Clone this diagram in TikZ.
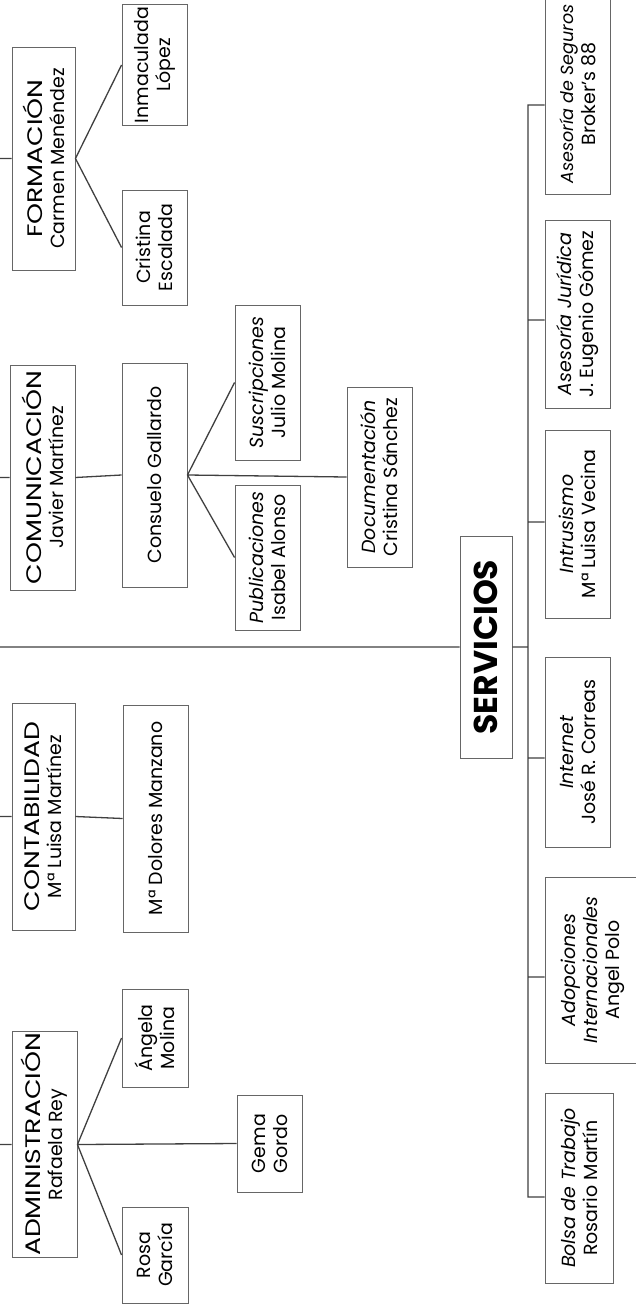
\documentclass[tikz,border=0pt]{standalone}
\usepackage{fontspec}
\setmainfont{Poppins}
\newfontfamily\anchafont[FakeStretch=1.27]{Poppins}
\newcommand{\cj}{\node[caja]}
\newcommand{\tit}[1]{{\anchafont\fontsize{21}{23}\selectfont #1}}
\tikzset{
  caja/.style={draw=black!60, line width=0.9pt, rotate=90, align=center,
    inner sep=0pt, inner xsep=2pt, font=\fontsize{19}{22}\selectfont},
  linea/.style={draw=black!75, line width=1.3pt},
}

\begin{document}
\begin{tikzpicture}[x=1pt, y=-1pt]
  \useasboundingbox (0,0) rectangle (636,1307);
  \fill[white] (0,0) rectangle (636,1307);
  \clip (0,0) rectangle (636,1307);
  \coordinate (tronco) at (0,0);

  % formacion
  \cj[minimum width=223, minimum height=63] (formacion) at (43.5,158.5) {\tit{FORMACIÓN}\\Carmen Menéndez};
  \cj[minimum width=120, minimum height=65] (inmaculada) at (154.5,65) {Inmaculada\\López};
  \cj[minimum width=115, minimum height=65] (escalada) at (154.5,247.5) {Cristina\\Escalada};

  % comunicacion
  \cj[minimum width=225, minimum height=65] (comunicacion) at (42.5,477.5) {\tit{COMUNICACIÓN}\\Javier Martínez};
  \cj[minimum width=224, minimum height=65] (consuelo) at (154.5,475) {Consuelo Gallardo};
  \cj[minimum width=155, minimum height=65] (suscripciones) at (267.5,382.5) {\textit{Suscripciones}\\Julio Molina};
  \cj[minimum width=145, minimum height=65] (publicaciones) at (267.5,557.5) {\textit{Publicaciones}\\Isabel Alonso};
  \cj[minimum width=180, minimum height=65] (documentacion) at (379.5,477) {\textit{Documentación}\\Cristina Sánchez};

  % contabilidad
  \cj[minimum width=227, minimum height=63] (contabilidad) at (43.5,816.5) {\tit{CONTABILIDAD}\\Mª Luisa Martínez};
  \cj[minimum width=227, minimum height=65] (dolores) at (155.5,818.5) {Mª Dolores Manzano};

  % administracion
  \cj[minimum width=225, minimum height=65] (administracion) at (44.5,1144.5) {\tit{ADMINISTRACIÓN}\\Rafaela Rey};
  \cj[minimum width=98, minimum height=66] (angela) at (155,1038) {Ángela\\Molina};
  \cj[minimum width=97, minimum height=65] (gema) at (269.5,1143.5) {Gema\\Gordo};
  \cj[minimum width=96, minimum height=66] (rosa) at (155,1255) {Rosa\\García};

  % servicios
  \cj[minimum width=222, minimum height=52, font=\fontsize{33}{35}\selectfont\bfseries] (servicios) at (486,647) {SERVICIOS};
  \cj[minimum width=200, minimum height=65] (seguros) at (577.5,94) {{\fontsize{17.5}{22}\selectfont\itshape Asesoría de Seguros}\\Broker’s 88};
  \cj[minimum width=188, minimum height=65] (juridica) at (577.5,314) {\textit{Asesoría Jurídica}\\J. Eugenio Gómez};
  \cj[minimum width=188, minimum height=65] (intrusismo) at (577.5,524) {\textit{Intrusismo}\\Mª Luisa Vecina};
  \cj[minimum width=190, minimum height=65] (internet) at (577.5,752) {\textit{Internet}\\José R. Correas};
  \cj[minimum width=186, minimum height=95] (adopciones) at (592.5,970) {\textit{Adopciones}\\\textit{Internacionales}\\Angel Polo};
  \cj[minimum width=190, minimum height=68] (bolsa) at (579,1188) {\textit{Bolsa de Trabajo}\\Rosario Martín};

  \coordinate (s1) at (528,105);
  \coordinate (s2) at (528,320);
  \coordinate (s3) at (528,522);
  \coordinate (s4) at (528,758);
  \coordinate (s5) at (528,977);
  \coordinate (s6) at (528,1197);

  \draw[linea]
    (formacion.north -| tronco) -- (formacion.north)
    (comunicacion.north -| tronco) -- (comunicacion.north)
    (contabilidad.north -| tronco) -- (contabilidad.north)
    (administracion.north -| tronco) -- (administracion.north)
    (servicios.north -| tronco) -- (servicios.north)
    (formacion.south) -- (inmaculada.north)
    (formacion.south) -- (escalada.north)
    (comunicacion.south) -- (consuelo.north)
    (consuelo.south) -- (suscripciones.north)
    (consuelo.south) -- (publicaciones.north)
    (consuelo.south) -- (documentacion.north)
    (contabilidad.south) -- (dolores.north)
    (administracion.south) -- (angela.north)
    (administracion.south) -- (gema.north)
    (administracion.south) -- (rosa.north)
    (servicios.south) -- (servicios.south -| s1)
    (s1 -| seguros.north) -- (s1) -- (s6) -- (s6 -| bolsa.north)
    (s2) -- (s2 -| juridica.north)
    (s3) -- (s3 -| intrusismo.north)
    (s4) -- (s4 -| internet.north)
    (s5) -- (s5 -| adopciones.north)
    ;
\end{tikzpicture}
\end{document}
